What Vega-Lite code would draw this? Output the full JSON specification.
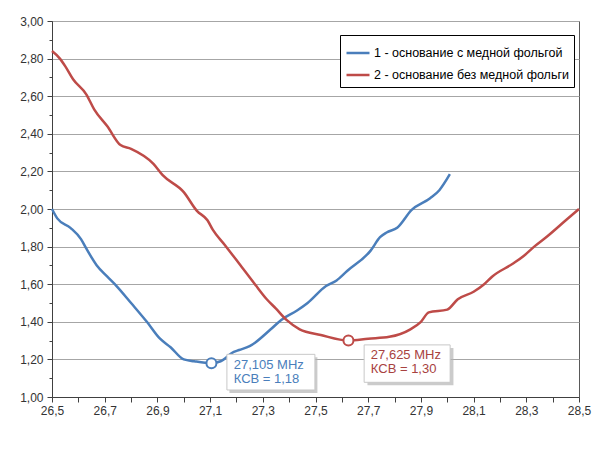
{
  "$schema": "https://vega.github.io/schema/vega-lite/v6.json",
  "width": 527,
  "height": 376,
  "autosize": "none",
  "padding": {"left": 52, "top": 21, "right": 21, "bottom": 53},
  "background": "white",
  "datasets": {
    "curves": [
      {"f": 26.50, "v": 2.00, "s": "1 - основание с медной фольгой"},
      {"f": 26.52, "v": 1.95, "s": "1 - основание с медной фольгой"},
      {"f": 26.57, "v": 1.90, "s": "1 - основание с медной фольгой"},
      {"f": 26.61, "v": 1.84, "s": "1 - основание с медной фольгой"},
      {"f": 26.63, "v": 1.79, "s": "1 - основание с медной фольгой"},
      {"f": 26.67, "v": 1.70, "s": "1 - основание с медной фольгой"},
      {"f": 26.71, "v": 1.64, "s": "1 - основание с медной фольгой"},
      {"f": 26.745, "v": 1.59, "s": "1 - основание с медной фольгой"},
      {"f": 26.80, "v": 1.50, "s": "1 - основание с медной фольгой"},
      {"f": 26.86, "v": 1.40, "s": "1 - основание с медной фольгой"},
      {"f": 26.91, "v": 1.31, "s": "1 - основание с медной фольгой"},
      {"f": 26.95, "v": 1.265, "s": "1 - основание с медной фольгой"},
      {"f": 27.00, "v": 1.20, "s": "1 - основание с медной фольгой"},
      {"f": 27.04, "v": 1.19, "s": "1 - основание с медной фольгой"},
      {"f": 27.105, "v": 1.18, "s": "1 - основание с медной фольгой"},
      {"f": 27.14, "v": 1.19, "s": "1 - основание с медной фольгой"},
      {"f": 27.19, "v": 1.24, "s": "1 - основание с медной фольгой"},
      {"f": 27.21, "v": 1.25, "s": "1 - основание с медной фольгой"},
      {"f": 27.25, "v": 1.27, "s": "1 - основание с медной фольгой"},
      {"f": 27.33, "v": 1.36, "s": "1 - основание с медной фольгой"},
      {"f": 27.37, "v": 1.41, "s": "1 - основание с медной фольгой"},
      {"f": 27.43, "v": 1.46, "s": "1 - основание с медной фольгой"},
      {"f": 27.47, "v": 1.50, "s": "1 - основание с медной фольгой"},
      {"f": 27.54, "v": 1.59, "s": "1 - основание с медной фольгой"},
      {"f": 27.58, "v": 1.62, "s": "1 - основание с медной фольгой"},
      {"f": 27.62, "v": 1.67, "s": "1 - основание с медной фольгой"},
      {"f": 27.71, "v": 1.78, "s": "1 - основание с медной фольгой"},
      {"f": 27.745, "v": 1.85, "s": "1 - основание с медной фольгой"},
      {"f": 27.77, "v": 1.875, "s": "1 - основание с медной фольгой"},
      {"f": 27.81, "v": 1.90, "s": "1 - основание с медной фольгой"},
      {"f": 27.865, "v": 1.995, "s": "1 - основание с медной фольгой"},
      {"f": 27.935, "v": 2.057, "s": "1 - основание с медной фольгой"},
      {"f": 27.97, "v": 2.10, "s": "1 - основание с медной фольгой"},
      {"f": 28.01, "v": 2.185, "s": "1 - основание с медной фольгой"},
      {"f": 26.50, "v": 2.84, "s": "2 - основание без медной фольги"},
      {"f": 26.53, "v": 2.80, "s": "2 - основание без медной фольги"},
      {"f": 26.55, "v": 2.76, "s": "2 - основание без медной фольги"},
      {"f": 26.58, "v": 2.69, "s": "2 - основание без медной фольги"},
      {"f": 26.63, "v": 2.61, "s": "2 - основание без медной фольги"},
      {"f": 26.66, "v": 2.53, "s": "2 - основание без медной фольги"},
      {"f": 26.71, "v": 2.44, "s": "2 - основание без медной фольги"},
      {"f": 26.76, "v": 2.34, "s": "2 - основание без медной фольги"},
      {"f": 26.80, "v": 2.32, "s": "2 - основание без медной фольги"},
      {"f": 26.885, "v": 2.24, "s": "2 - основание без медной фольги"},
      {"f": 26.92, "v": 2.18, "s": "2 - основание без медной фольги"},
      {"f": 27.00, "v": 2.09, "s": "2 - основание без медной фольги"},
      {"f": 27.05, "v": 1.99, "s": "2 - основание без медной фольги"},
      {"f": 27.09, "v": 1.94, "s": "2 - основание без медной фольги"},
      {"f": 27.11, "v": 1.89, "s": "2 - основание без медной фольги"},
      {"f": 27.155, "v": 1.81, "s": "2 - основание без медной фольги"},
      {"f": 27.21, "v": 1.71, "s": "2 - основание без медной фольги"},
      {"f": 27.27, "v": 1.60, "s": "2 - основание без медной фольги"},
      {"f": 27.315, "v": 1.52, "s": "2 - основание без медной фольги"},
      {"f": 27.35, "v": 1.47, "s": "2 - основание без медной фольги"},
      {"f": 27.39, "v": 1.41, "s": "2 - основание без медной фольги"},
      {"f": 27.44, "v": 1.36, "s": "2 - основание без медной фольги"},
      {"f": 27.52, "v": 1.33, "s": "2 - основание без медной фольги"},
      {"f": 27.625, "v": 1.30, "s": "2 - основание без медной фольги"},
      {"f": 27.70, "v": 1.31, "s": "2 - основание без медной фольги"},
      {"f": 27.78, "v": 1.32, "s": "2 - основание без медной фольги"},
      {"f": 27.86, "v": 1.36, "s": "2 - основание без медной фольги"},
      {"f": 27.90, "v": 1.40, "s": "2 - основание без медной фольги"},
      {"f": 27.93, "v": 1.45, "s": "2 - основание без медной фольги"},
      {"f": 28.00, "v": 1.465, "s": "2 - основание без медной фольги"},
      {"f": 28.04, "v": 1.52, "s": "2 - основание без медной фольги"},
      {"f": 28.10, "v": 1.56, "s": "2 - основание без медной фольги"},
      {"f": 28.14, "v": 1.60, "s": "2 - основание без медной фольги"},
      {"f": 28.17, "v": 1.64, "s": "2 - основание без медной фольги"},
      {"f": 28.25, "v": 1.71, "s": "2 - основание без медной фольги"},
      {"f": 28.29, "v": 1.75, "s": "2 - основание без медной фольги"},
      {"f": 28.33, "v": 1.80, "s": "2 - основание без медной фольги"},
      {"f": 28.38, "v": 1.855, "s": "2 - основание без медной фольги"},
      {"f": 28.45, "v": 1.94, "s": "2 - основание без медной фольги"},
      {"f": 28.50, "v": 2.00, "s": "2 - основание без медной фольги"}
    ],
    "notes": [
      {"f": 27.105, "v": 1.18, "id": "1", "label": "27,105 MHz\nКСВ = 1,18"},
      {"f": 27.625, "v": 1.30, "id": "2", "label": "27,625 MHz\nКСВ = 1,30"}
    ]
  },
  "encoding": {
    "x": {
      "field": "f", "type": "quantitative",
      "scale": {"domain": [26.5, 28.5], "nice": false, "zero": false},
      "axis": {
        "title": null,
        "values": [26.5, 26.6, 26.7, 26.8, 26.9, 27.0, 27.1, 27.2, 27.3, 27.4, 27.5, 27.6, 27.7, 27.8, 27.9, 28.0, 28.1, 28.2, 28.3, 28.4, 28.5],
        "labelExpr": "round(datum.value*10) % 2 == 1 ? replace(format(datum.value, '.1f'), '.', ',') : ''",
        "grid": false,
        "tickSize": 5,
        "labelPadding": 3,
        "labelFlush": false,
        "labelOverlap": false
      }
    },
    "y": {
      "field": "v", "type": "quantitative",
      "scale": {"domain": [1, 3], "nice": false, "zero": false},
      "axis": {
        "title": null,
        "values": [1.0, 1.1, 1.2, 1.3, 1.4, 1.5, 1.6, 1.7, 1.8, 1.9, 2.0, 2.1, 2.2, 2.3, 2.4, 2.5, 2.6, 2.7, 2.8, 2.9, 3.0],
        "labelExpr": "round(datum.value*10) % 2 == 0 ? replace(format(datum.value, '.2f'), '.', ',') : ''",
        "grid": true,
        "gridOpacity": {"condition": {"test": "round(datum.value*10) % 2 == 0", "value": 1}, "value": 0},
        "tickSize": {"condition": {"test": "round(datum.value*10) % 2 == 0", "value": 5}, "value": 3},
        "labelPadding": 4,
        "labelOverlap": false,
        "labelFlush": false
      }
    }
  },
  "layer": [
    {
      "data": {"name": "curves"},
      "mark": {"type": "line", "strokeWidth": 2.5, "interpolate": "monotone"},
      "encoding": {
        "color": {
          "field": "s", "type": "nominal",
          "scale": {"domain": ["1 - основание с медной фольгой", "2 - основание без медной фольги"], "range": ["#4A7EBB", "#BE4B48"]},
          "legend": {
            "title": null,
            "orient": "none",
            "legendX": 288,
            "legendY": 14,
            "direction": "vertical",
            "fillColor": "white",
            "strokeColor": "#000000",
            "padding": 5,
            "rowPadding": 2,
            "symbolType": "stroke",
            "symbolSize": 529,
            "symbolStrokeWidth": 2.5,
            "labelOffset": 3,
            "labelFontSize": 12.5,
            "labelFont": "Liberation Sans",
            "labelColor": "#000000",
            "labelLimit": 0
          }
        }
      }
    },
    {
      "data": {"name": "notes"},
      "transform": [{"filter": "datum.id == '1'"}],
      "mark": {"type": "point", "shape": "circle", "filled": true, "fill": "white", "stroke": "#4A7EBB", "strokeWidth": 2, "size": 100, "opacity": 1}
    },
    {
      "data": {"name": "notes"},
      "transform": [{"filter": "datum.id == '2'"}],
      "mark": {"type": "point", "shape": "circle", "filled": true, "fill": "white", "stroke": "#BE4B48", "strokeWidth": 2, "size": 100, "opacity": 1}
    },
    {
      "data": {"name": "notes"},
      "transform": [{"filter": "datum.id == '1'"}],
      "mark": {"type": "point", "shape": "M-1,-0.405H1V0.405H-1Z", "filled": true, "fill": "#b5b5b5", "strokeWidth": 0, "size": 7744, "opacity": 0.7, "xOffset": 62, "yOffset": 12}
    },
    {
      "data": {"name": "notes"},
      "transform": [{"filter": "datum.id == '2'"}],
      "mark": {"type": "point", "shape": "M-1,-0.435H1V0.435H-1Z", "filled": true, "fill": "#b5b5b5", "strokeWidth": 0, "size": 7396, "opacity": 0.7, "xOffset": 62, "yOffset": 26}
    },
    {
      "data": {"name": "notes"},
      "transform": [{"filter": "datum.id == '1'"}],
      "mark": {"type": "point", "shape": "M-1,-0.405H1V0.405H-1Z", "filled": true, "fill": "white", "stroke": "#c8c8c8", "strokeWidth": 1, "size": 7744, "opacity": 1, "xOffset": 59.5, "yOffset": 9}
    },
    {
      "data": {"name": "notes"},
      "transform": [{"filter": "datum.id == '2'"}],
      "mark": {"type": "point", "shape": "M-1,-0.435H1V0.435H-1Z", "filled": true, "fill": "white", "stroke": "#c8c8c8", "strokeWidth": 1, "size": 7396, "opacity": 1, "xOffset": 58.7, "yOffset": 23}
    },
    {
      "data": {"name": "notes"},
      "transform": [{"filter": "datum.id == '1'"}],
      "mark": {"type": "text", "align": "left", "baseline": "alphabetic", "dx": 22.3, "dy": 6, "lineBreak": "\n", "lineHeight": 14, "font": "Liberation Sans", "fontSize": 13, "color": "#4A7EBB"},
      "encoding": {"text": {"field": "label"}}
    },
    {
      "data": {"name": "notes"},
      "transform": [{"filter": "datum.id == '2'"}],
      "mark": {"type": "text", "align": "left", "baseline": "alphabetic", "dx": 22.4, "dy": 18.5, "lineBreak": "\n", "lineHeight": 14, "font": "Liberation Sans", "fontSize": 13, "color": "#A8423F"},
      "encoding": {"text": {"field": "label"}}
    }
  ],
  "config": {
    "view": {"stroke": "#595959", "strokeWidth": 1},
    "axis": {
      "labelFont": "Liberation Sans",
      "labelFontSize": 12,
      "labelColor": "#333333",
      "domainColor": "#404040",
      "domainWidth": 1,
      "tickColor": "#404040",
      "tickWidth": 1,
      "gridColor": "#a6a6a6",
      "gridWidth": 1
    }
  }
}
